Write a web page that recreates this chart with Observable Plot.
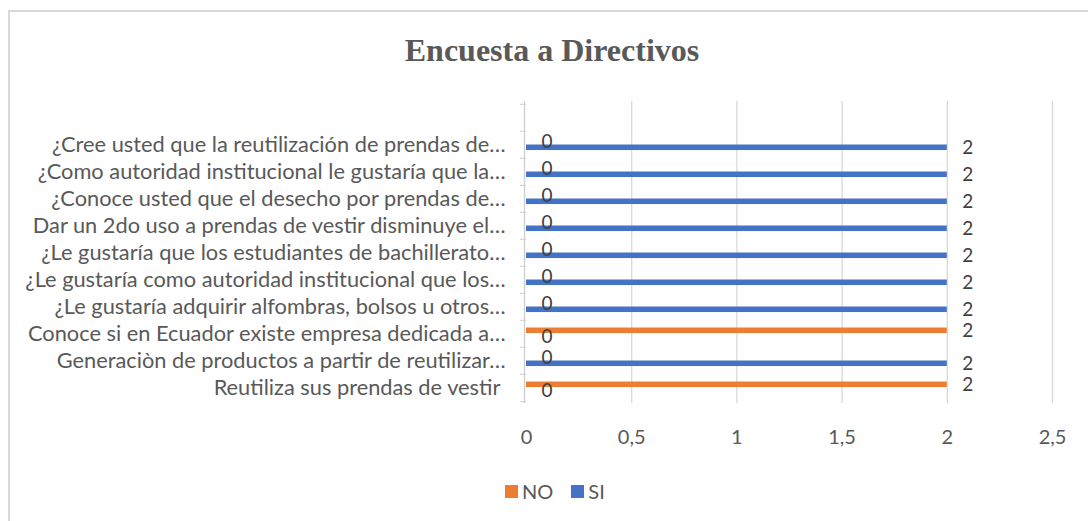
<!DOCTYPE html>
<html>
<head>
<meta charset="utf-8">
<script src="https://cdn.jsdelivr.net/npm/d3@7"></script>
<script src="https://cdn.jsdelivr.net/npm/@observablehq/plot@0.6"></script>
<style>
  html, body { margin: 0; padding: 0; background: #fff; width: 1088px; height: 521px; overflow: hidden; }
  #frame { position: absolute; left: 8px; top: 10px; width: 1200px; height: 600px; border-left: 2px solid #d9d9d9; border-top: 2px solid #d9d9d9; box-sizing: border-box; }
  #title { position: absolute; left: 0; width: 1104px; top: 31px; text-align: center; font-family: "Liberation Serif", serif; font-weight: bold; font-size: 32px; color: #595959; line-height: 38px; }
  #chart { position: absolute; left: 0; top: 80px; }
  #legend { position: absolute; top: 479px; left: 505px; font-family: Lato, sans-serif; font-size: 20px; color: #595959; display: flex; align-items: center; height: 24px; }
  .sw { width: 13px; height: 13px; display: inline-block; margin-right: 4px; }
  .item { display: flex; align-items: center; margin-right: 18px; }
</style>
</head>
<body>
<div id="frame"></div>
<div id="title">Encuesta a Directivos</div>
<div id="chart"></div>
<div id="legend"></div>
<script>
const categories = [
  "",
  "¿Cree usted que la reutilización de prendas de…",
  "¿Como autoridad institucional le gustaría que la…",
  "¿Conoce usted que el desecho por prendas de…",
  "Dar un 2do uso a prendas de vestir disminuye el…",
  "¿Le gustaría que los estudiantes de bachillerato…",
  "¿Le gustaría como autoridad institucional que los…",
  "¿Le gustaría adquirir alfombras, bolsos u otros…",
  "Conoce si en Ecuador existe empresa dedicada a…",
  "Generaciòn de productos a partir de reutilizar…",
  "Reutiliza sus prendas de vestir "
];
const noValues = [null, 0, 0, 0, 0, 0, 0, 0, 2, 0, 2];
const siValues = [null, 2, 2, 2, 2, 2, 2, 2, 0, 2, 0];
const seriesNames = ["NO", "SI"];
const seriesColors = ["#ED7D31", "#4472C4"];
const xTicks = [0, 0.5, 1, 1.5, 2, 2.5];

const H = 380, MT = 21, MB = 57;
const bw = (H - MT - MB) / categories.length;

const noData = categories.map((c, i) => ({cat: c, v: noValues[i]})).filter(d => d.v != null);
const siData = categories.map((c, i) => ({cat: c, v: siValues[i]})).filter(d => d.v != null);

// positions inside each band (pixels from band top)
const noTop = 7.5, siTop = 13.5, barH = 6;
const fmt = d => String(d).replace(".", ",");
const font = "Lato, sans-serif";

const chart = Plot.plot({
  width: 1088,
  height: H,
  marginTop: MT,
  marginBottom: MB,
  marginLeft: 526,
  marginRight: 36,
  style: {fontFamily: font, fontSize: "20px", color: "#595959", background: "transparent"},
  x: {domain: [0, 2.5]},
  y: {domain: categories, padding: 0},
  marks: [
    Plot.gridX(xTicks.filter(d => d > 0), {stroke: "#d9d9d9", strokeOpacity: 1, strokeWidth: 1.3}),
    Plot.axisX(xTicks, {tickSize: 0, tickPadding: 26, tickFormat: fmt, fontSize: 20, fill: "#595959", label: null}),
    Plot.axisY({tickSize: 0, tickPadding: 21, fontSize: 21.8, fill: "#595959", label: null}),
    Plot.axisY({text: null, tickSize: 6, dy: -bw / 2, stroke: "#cfcfcf", label: null}),
    Plot.axisY([categories[categories.length - 1]], {text: null, tickSize: 6, dy: bw / 2, stroke: "#cfcfcf", label: null}),
    Plot.ruleX([0], {stroke: "#cfcfcf", dx: -2, strokeWidth: 1.3}),
    Plot.barX(noData, {x: "v", y: "cat", fill: seriesColors[0], insetTop: noTop, insetBottom: bw - noTop - barH}),
    Plot.barX(siData, {x: "v", y: "cat", fill: seriesColors[1], insetTop: siTop, insetBottom: bw - siTop - barH}),
    Plot.text(noData, {x: "v", y: "cat", text: d => fmt(d.v), textAnchor: "start", dx: 15, dy: noTop + barH / 2 - bw / 2, fill: "#404040", fontSize: 19}),
    Plot.text(siData, {x: "v", y: "cat", text: d => fmt(d.v), textAnchor: "start", dx: 15, dy: siTop + barH / 2 - bw / 2, fill: "#404040", fontSize: 19})
  ]
});
document.getElementById("chart").appendChild(chart);

const legend = document.getElementById("legend");
seriesNames.forEach((n, i) => {
  const item = document.createElement("div");
  item.className = "item";
  item.innerHTML = `<span class="sw" style="background:${seriesColors[i]}"></span><span>${n}</span>`;
  legend.appendChild(item);
});
</script>
</body>
</html>
